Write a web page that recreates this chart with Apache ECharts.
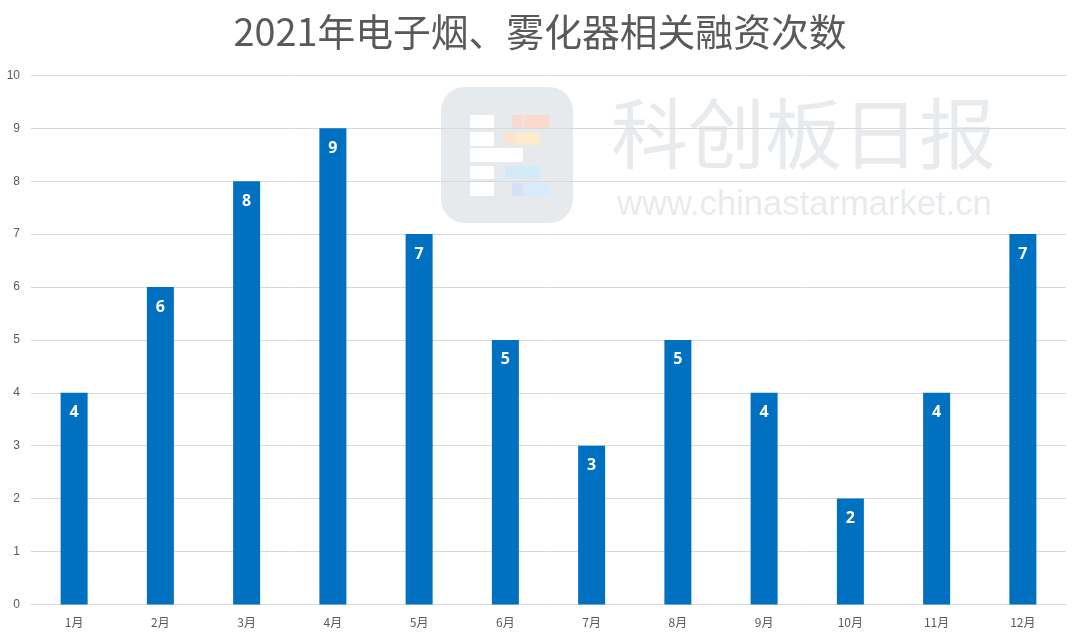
<!DOCTYPE html>
<html><head><meta charset="utf-8">
<style>html,body{margin:0;padding:0;background:#fff}#c{width:1080px;height:638px}</style>
<script src="https://cdn.jsdelivr.net/npm/echarts@6/dist/echarts.min.js"></script>
</head><body><div id="c"></div>
<script>
const titleText = '2021年电子烟、雾化器相关融资次数';
const categories = ['1月','2月','3月','4月','5月','6月','7月','8月','9月','10月','11月','12月'];
const counts = [4,6,8,9,7,5,3,5,4,2,4,7];
const cjk = '"Noto Sans CJK SC"';
const block = (x,y,w,h,fill) => ({type:'rect',z:-1,silent:true,shape:{x,y,width:w,height:h},style:{fill}});
const chart = echarts.init(document.getElementById('c'),null,{renderer:'canvas'});
chart.setOption({
  animation:false,
  backgroundColor:'#ffffff',
  title:{text:titleText,left:'center',top:8,textStyle:{color:'#595959',fontSize:37.8,fontWeight:'normal',fontFamily:cjk}},
  grid:{left:31,right:14,top:75.4,bottom:33.6,containLabel:false},
  xAxis:{type:'category',data:categories,
    axisLine:{lineStyle:{color:'#d9d9d9',width:1}},axisTick:{show:false},
    axisLabel:{color:'#595959',fontSize:12,fontFamily:cjk,margin:12}},
  yAxis:{type:'value',min:0,max:10,interval:1,
    axisLine:{show:false},axisTick:{show:false},
    splitLine:{lineStyle:{color:'#d9d9d9',width:1}},
    axisLabel:{color:'#595959',fontSize:12,fontFamily:'"Liberation Sans"',margin:11}},
  series:[{type:'bar',data:counts,barWidth:27,z:5,
    itemStyle:{color:'#0070c0'},
    label:{show:true,position:'insideTop',distance:12,color:'#ffffff',fontSize:16,fontWeight:'bold',fontFamily:'"Noto Sans"'}}],
  graphic:{elements:[
    {type:'rect',z:-2,silent:true,shape:{x:441,y:87,width:132,height:136,r:24},style:{fill:'#e7eaed'}},
    block(470,115,24,14,'#ffffff'),block(470,132,24,14,'#ffffff'),block(470,148,53,14,'#ffffff'),
    block(470,166,24,13,'#ffffff'),block(470,182,24,14,'#ffffff'),
    block(512,115,37,13,'#f3e0da'),block(505,133,35,12,'#f6e8d8'),
    block(505,166,35,13,'#dce8f2'),block(512,183,37,13,'#dde5f3'),
    block(512,115,9,13,'#f8d8d2'),block(525,115,24,13,'#fbdacb'),
    block(505,133,10,12,'#fde3cd'),block(516,133,24,12,'#fdeccb'),
    block(505,166,10,13,'#d5e8f8'),block(516,166,24,13,'#d2ebf8'),
    block(512,183,10,13,'#d5e0f8'),block(525,183,24,13,'#d8ebfb'),
    {type:'text',z:-1,silent:true,x:611,y:95,style:{text:'科创板日报',fill:'#e8ebee',font:'77px "Noto Sans CJK SC"'}},
    {type:'text',z:-1,silent:true,x:617,y:188,style:{text:'www.chinastarmarket.cn',fill:'#e8ebee',font:'34.6px "Liberation Sans"'}}
  ]}
});
</script></body></html>
